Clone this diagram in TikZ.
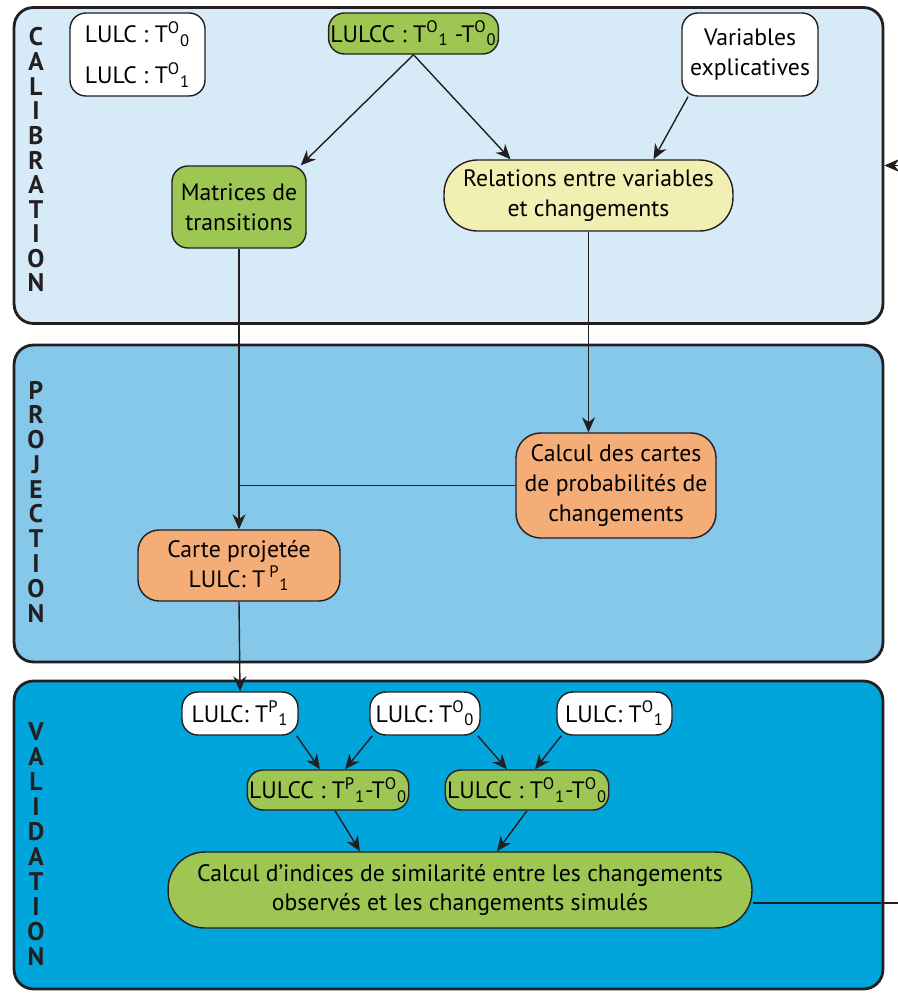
\documentclass[tikz,border=0pt]{standalone}
\usepackage{fontspec}
\setmainfont{PT Sans}
\usetikzlibrary{arrows.meta,positioning}
\definecolor{Ink}{HTML}{231F20}
\definecolor{CalibBlue}{HTML}{D6EBF7}
\definecolor{ProjBlue}{HTML}{85C8E9}
\definecolor{ValidBlue}{HTML}{00A5DC}
\definecolor{Leaf}{HTML}{9DC653}
\definecolor{Cream}{HTML}{F1EFB2}
\definecolor{Peach}{HTML}{F5AD78}
\newcommand{\Tsup}[2]{T\textsuperscript{#1}\textsubscript{#2}}
\tikzset{
  stage/.style={
    rounded corners=11pt, draw=Ink, line width=1.6pt,
    minimum width=17.38cm, inner sep=0pt
  },
  stagelabel/.style={font=\fontsize{14.5}{14.5}\bfseries\selectfont, text=Ink, inner sep=0pt},
  box/.style={
    rounded corners=9pt, draw=Ink, thick, align=center,
    font=\fontsize{13.5}{17}\selectfont, inner sep=1pt
  },
  data/.style={box, fill=white},
  stepgreen/.style={box, fill=Leaf},
  flow/.style={-{Stealth[length=3mm, width=2.6mm]}, thick, draw=Ink},
  link/.style={thick, draw=Ink}
}

\begin{document}
\begin{tikzpicture}[x=0.02cm, y=-0.02cm]
    \useasboundingbox (0,0) rectangle (898,993);
    \clip (0,0) rectangle (898,993);
    % stages
    \node[stage, fill=CalibBlue, minimum height=6.32cm] (calib) at (448.5,165.5) {};
    \node[stage, fill=ProjBlue, minimum height=6.34cm] (proj) at (448.5,503.5) {};
    \node[stage, fill=ValidBlue, minimum height=6.16cm] (valid) at (448.5,835) {};
    \foreach \ch [count=\i from 0] in {C,A,L,I,B,R,A,T,I,O,N}
      \node[stagelabel] (cal-\i) at (36,37+24.6*\i) {\ch};
    \foreach \ch [count=\i from 0] in {P,R,O,J,E,C,T,I,O,N}
      \node[stagelabel] (pro-\i) at (36,390+24.8*\i) {\ch};
    \foreach \ch [count=\i from 0] in {V,A,L,I,D,A,T,I,O,N}
      \node[stagelabel] (val-\i) at (36,732+25*\i) {\ch};

    % calibration
    \node[data, minimum width=2.7cm, minimum height=1.66cm] (lulcobs) at (137.5,54.5)
      {LULC : \Tsup{O}{0}\\[6pt]LULC : \Tsup{O}{1}};
    \node[stepgreen, minimum width=3.34cm, minimum height=0.82cm] (diffobs) at (413.5,33.5)
      {LULCC : \Tsup{O}{1} -\Tsup{O}{0}};
    \node[data, minimum width=2.72cm, minimum height=1.66cm] (expl) at (750,54.5)
      {Variables\\explicatives};
    \node[stepgreen, minimum width=2.68cm, minimum height=1.64cm] (matrices) at (239,207)
      {Matrices de\\transitions};
    \node[box, fill=Cream, rounded corners=19pt, minimum width=5.78cm, minimum height=1.42cm]
      (relations) at (588.5,195.5) {Relations entre variables\\et changements};

    % projection
    \node[box, fill=Peach, rounded corners=14pt, minimum width=4cm, minimum height=2.1cm]
      (probas) at (616,485.5) {Calcul des cartes\\de probabilités de\\changements};
    \node[box, fill=Peach, rounded corners=12pt, minimum width=4.04cm, minimum height=1.42cm]
      (projmap) at (239,565.5) {Carte projetée\\LULC: T\,\textsuperscript{P}\textsubscript{1}};

    % validation
    \node[data, minimum width=2.32cm, minimum height=0.86cm] (simmap) at (240,713.5) {LULC: \Tsup{P}{1}};
    \node[data, minimum width=2.2cm, minimum height=0.86cm] (obsmap0) at (425,713.5) {LULC: \Tsup{O}{0}};
    \node[data, minimum width=2.3cm, minimum height=0.86cm] (obsmap1) at (614.5,713.5) {LULC: \Tsup{O}{1}};
    \node[stepgreen, minimum width=3.2cm, minimum height=0.8cm] (simdiff) at (328,790)
      {LULCC : \Tsup{P}{1}-\Tsup{O}{0}};
    \node[stepgreen, minimum width=3.16cm, minimum height=0.8cm] (obsdiff) at (527,790)
      {LULCC : \Tsup{O}{1}-\Tsup{O}{0}};
    \node[stepgreen, rounded corners=21pt, minimum width=11.68cm, minimum height=1.52cm]
      (indices) at (460,890)
      {Calcul d’indices de similarité entre les changements\\observés et les changements simulés};
    \coordinate (loopturn) at (915,500);

    % connectors
    \draw[flow] (diffobs.south) -- ([xshift=-0.12cm]matrices.north east);
    \draw[flow] (diffobs.south) -- ([xshift=-1.56cm]relations.north);
    \draw[flow] ([xshift=-1.24cm]expl.south) -- ([xshift=1.3cm]relations.north);
    \draw[flow] (matrices.south) -- (projmap.north);
    \draw[flow] (relations.south) -- (relations.south |- probas.north);
    \draw[link] (probas.west) -- (probas.west -| matrices.south);
    \draw[flow] (projmap.south) -- (simmap.north);
    \draw[flow] ([xshift=-0.04cm]simmap.south east) -- ([xshift=-0.16cm]simdiff.north);
    \draw[flow] ([xshift=0.06cm]obsmap0.south west) -- ([xshift=0.34cm]simdiff.north);
    \draw[flow] ([xshift=-0.06cm]obsmap0.south east) -- ([xshift=-0.4cm]obsdiff.north);
    \draw[flow] ([xshift=0.1cm]obsmap1.south west) -- ([xshift=0.16cm]obsdiff.north);
    \draw[flow] ([xshift=0.14cm]simdiff.south) -- ([xshift=-2cm]indices.north);
    \draw[flow] (obsdiff.south) -- ([xshift=0.74cm]indices.north);
    \draw[flow] ([yshift=-0.26cm]indices.east) -| (loopturn) |- (calib.east);
\end{tikzpicture}
\end{document}
